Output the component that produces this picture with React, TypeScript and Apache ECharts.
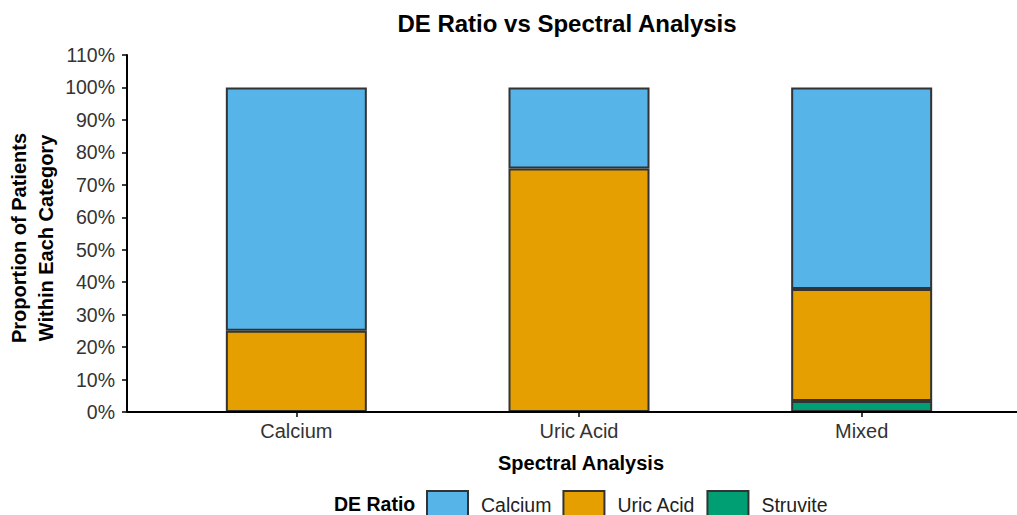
import React, { useEffect, useRef } from "react";
import * as echarts from "echarts";

const categories = ["Calcium", "Uric Acid", "Mixed"];
const calciumValues = [0.75, 0.25, 0.621];
const uricAcidValues = [0.25, 0.75, 0.345];
const struviteValues: (number | string)[] = ["-", "-", 0.034];
const yTicks = [0, 0.1, 0.2, 0.3, 0.4, 0.5, 0.6, 0.7, 0.8, 0.9, 1.0, 1.1];

const FONT = "'Liberation Sans', Arial, Helvetica, sans-serif";
const BORDER = "#333333";

export default function App() {
  const ref = useRef<HTMLDivElement>(null);
  useEffect(() => {
    if (!ref.current) return;
    const chart = echarts.init(ref.current, undefined, { renderer: "svg" });
    const barStyle = (color: string) => ({
      color,
      borderColor: BORDER,
      borderWidth: 2,
    });
    chart.setOption({
      animation: false,
      textStyle: { fontFamily: FONT },
      title: {
        text: "DE Ratio vs Spectral Analysis",
        left: 567,
        top: 11,
        padding: 0,
        textAlign: "center",
        textStyle: { fontFamily: FONT, fontSize: 24, fontWeight: "bold", color: "#000" },
      },
      grid: { left: 155, right: 14, top: 55, bottom: 103 },
      xAxis: {
        type: "category",
        data: categories,
        axisLine: { show: false },
        axisTick: { show: true, alignWithLabel: true, length: 5, lineStyle: { color: "#000", width: 1.5 } },
        axisLabel: { fontFamily: FONT, fontSize: 20, color: "#333", margin: 9 },
      },
      yAxis: {
        type: "value",
        min: 0,
        max: yTicks[yTicks.length - 1],
        interval: 0.1,
        offset: 28,
        splitLine: { show: false },
        axisLine: { show: true, lineStyle: { color: "#000", width: 2 } },
        axisTick: { show: true, length: 5, lineStyle: { color: "#000", width: 1.5 } },
        axisLabel: {
          fontFamily: FONT,
          fontSize: 19.5,
          color: "#333",
          margin: 12,
          formatter: (v: number) => Math.round(v * 100) + "%",
        },
      },
      legend: {
        data: ["Calcium", "Uric Acid", "Struvite"],
        left: 426,
        top: 490,
        padding: 0,
        icon: "rect",
        itemWidth: 41,
        itemHeight: 28,
        itemGap: 11,
        textStyle: { fontFamily: FONT, fontSize: 19.5, color: "#222", padding: [0, 0, 0, 8] },
      },
      graphic: [
        {
          type: "line",
          shape: { x1: 127, y1: 412, x2: 1017, y2: 412 },
          style: { stroke: "#000", lineWidth: 2 },
          z: 100,
        },
        {
          type: "text",
          x: 32,
          y: 238,
          rotation: Math.PI / 2,
          style: {
            text: "Proportion of Patients\nWithin Each Category",
            fontFamily: FONT,
            fontSize: 20,
            fontWeight: "bold",
            fill: "#000",
            align: "center",
            verticalAlign: "middle",
            lineHeight: 27,
          },
        },
        {
          type: "text",
          x: 581,
          y: 463,
          style: {
            text: "Spectral Analysis",
            fontFamily: FONT,
            fontSize: 20,
            fontWeight: "bold",
            fill: "#000",
            align: "center",
            verticalAlign: "middle",
          },
        },
        {
          type: "text",
          x: 334,
          y: 504,
          style: {
            text: "DE Ratio",
            fontFamily: FONT,
            fontSize: 19.5,
            fontWeight: "bold",
            fill: "#000",
            align: "left",
            verticalAlign: "middle",
          },
        },
      ],
      series: [
        { name: "Struvite", type: "bar", stack: "total", barWidth: 141, data: struviteValues, itemStyle: barStyle("#009E73") },
        { name: "Uric Acid", type: "bar", stack: "total", barWidth: 141, data: uricAcidValues, itemStyle: barStyle("#E69F00") },
        { name: "Calcium", type: "bar", stack: "total", barWidth: 141, data: calciumValues, itemStyle: barStyle("#56B4E9") },
      ],
    });
    return () => chart.dispose();
  }, []);
  return <div ref={ref} style={{ width: 1017, height: 515, position: "absolute", left: 0, top: 0 }} />;
}
